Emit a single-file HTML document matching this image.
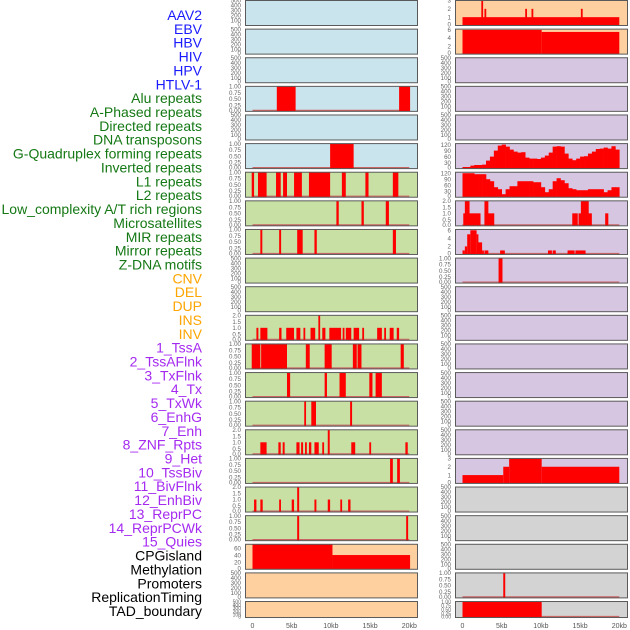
<!DOCTYPE html>
<html><head><meta charset="utf-8"><style>
html,body{margin:0;padding:0;background:#fff;width:630px;height:630px;overflow:hidden}
svg{display:block;font-family:"Liberation Sans",sans-serif}
</style></head><body>
<svg id="chart" width="630" height="630" viewBox="0 0 630 630" xmlns="http://www.w3.org/2000/svg"></svg>
<script>
// ---- data ----
const trackLabels = ["AAV2","EBV","HBV","HIV","HPV","HTLV-1","Alu repeats","A-Phased repeats","Directed repeats","DNA transposons","G-Quadruplex forming repeats","Inverted repeats","L1 repeats","L2 repeats","Low_complexity A/T rich regions","Microsatellites","MIR repeats","Mirror repeats","Z-DNA motifs","CNV","DEL","DUP","INS","INV","1_TssA","2_TssAFlnk","3_TxFlnk","4_Tx","5_TxWk","6_EnhG","7_Enh","8_ZNF_Rpts","9_Het","10_TssBiv","11_BivFlnk","12_EnhBiv","13_ReprPC","14_ReprPCWk","15_Quies","CPGisland","Methylation","Promoters","ReplicationTiming","TAD_boundary"];
const labelGroups = [6,13,5,15,5];
const xTickValues = [0,5,10,15,20];
const xTickLabels = ["0","5kb","10kb","15kb","20kb"];

const L4 = [[3.1,5.5,1],[18.7,20.1,1]];
const L6 = [[9.9,12.9,1]];
const L7 = [[-0.1,0.2,1],[0.7,1.8,1],[3.0,3.6,1],[3.9,4.4,1],[5.3,6.3,1],[7.2,9.9,1],[11.4,11.9,1],[14.4,14.8,1],[17.9,18.6,1]];
const L8 = [[10.7,11.0,1],[13.9,14.2,1],[17.0,17.4,1]];
const L9 = [[1.0,1.25,1],[3.4,3.65,1],[5.7,6.4,1],[7.9,8.2,1],[17.9,18.3,1]];
const L12 = [[0.5,0.75,1],[1.0,1.9,1],[3.4,3.7,1],[4.3,5.3,1],[5.6,6.1,1],[6.5,6.7,1],[7.4,8.0,1],[8.4,8.6,2],[8.9,9.3,1],[9.8,11.3,1],[11.5,11.7,1],[11.9,12.6,1],[12.9,13.6,1],[14.0,14.2,1],[15.9,16.5,1],[16.8,17.0,1],[17.5,18.0,1],[18.4,18.7,1]];
const L13 = [[-0.1,1.0,1],[1.1,4.4,1],[6.8,7.3,1],[9.2,10.1,1],[12.8,13.3,1],[13.4,13.9,1],[18.9,19.3,1]];
const L14 = [[4.4,4.8,1],[9.2,9.5,1],[11.1,11.9,1],[14.9,15.3,1],[15.7,16.5,1]];
const L15 = [[6.6,6.8,1],[7.5,8.1,1],[12.45,12.7,1]];
const L16 = [[1.0,1.8,1],[3.3,3.6,1],[3.85,4.1,1],[5.6,6.0,1],[6.2,6.45,1],[6.7,6.9,1],[7.2,7.5,1],[7.9,8.45,1],[8.9,9.1,1],[9.6,9.85,2],[12.6,13.1,1],[14.9,15.1,1],[19.5,19.8,1]];
const L17 = [[17.55,17.9,1],[18.45,18.8,1]];
const L18 = [[0.2,0.5,1],[1.0,1.3,1],[3.4,3.6,1],[5.0,5.3,1],[5.7,5.95,2],[7.9,8.15,1],[9.6,9.9,1],[11.2,11.4,1],[12.2,12.5,1]];
const L19 = [[5.7,5.95,1],[19.6,19.85,1]];
const L20 = [[0,10.2,72],[10.2,20.1,41]];

const R1 = [[0,20,1],[2.4,2.6,3],[2.8,3.0,2],[8.0,8.2,2],[8.8,9.0,2],[15.1,15.3,2]];
const R2 = [[0,10.1,6],[10.1,20,5.5]];
const R6hist = [8,8,15,18,18,20,40,60,90,115,120,110,95,85,80,82,55,50,50,48,55,65,80,110,112,110,75,50,42,50,60,62,75,85,98,100,105,100,112,95];
const R7hist = [120,120,120,115,115,115,90,80,50,40,15,40,55,55,80,80,80,80,75,75,50,25,40,80,95,85,70,45,40,35,35,35,40,40,40,40,25,35,50,50];
const R8 = [[0.1,2.3,1],[0.3,0.9,2],[2.8,4.05,1],[2.8,3.3,2],[14.0,14.7,1],[14.8,16.5,1],[15.1,16.1,2],[18.2,18.6,1]];
const R9 = [[0,0.3,1],[0.3,0.6,2],[0.6,1.0,5],[1.0,1.8,6],[1.8,1.9,5],[1.9,2.5,3],[2.5,2.6,1],[2.8,3.3,1],[4.8,5.4,1],[10.9,11.4,1],[11.5,11.9,1],[13.4,14.3,1],[14.4,15.7,1]];
const R10 = [[4.6,5.1,1]];
const R17 = [[0,5.2,1],[5.2,5.95,2],[5.95,10.1,3],[10.1,20,2]];
const R21 = [[5.2,5.45,1]];
const R22 = [[0,10.1,1]];

// ---- layout ----
const svg = document.getElementById('chart');
const NS = 'http://www.w3.org/2000/svg';
function mk(tag, attrs){const e=document.createElementNS(NS,tag);for(const k in attrs)e.setAttribute(k,attrs[k]);return e;}

const groupColors = ['#1a1aff','#147814','#ffa500','#a52af0','#000000'];
let li=0;
labelGroups.forEach((n,g)=>{for(let j=0;j<n;j++){
  const t=mk('text',{x:202,y:15+li*13.86+5,'text-anchor':'end','font-size':'14',fill:groupColors[g]});
  t.textContent=trackLabels[li];
  
  
  svg.appendChild(t); li++;}});

const BLUE='#c9e4ec',GREEN='#c8e0a4',PEACH='#ffd09f',LAV='#d7c6e2',GRAY='#d3d3d3';
const T1=[["0.00",0],["0.25",0.25],["0.50",0.5],["0.75",0.75],["1.00",1]];
const T2=[["0.0",0],["0.5",0.5],["1.0",1],["1.5",1.5],["2.0",2]];
const TB=[["0",0],["100",100],["200",200],["300",300],["400",400],["500",500]];
const T120=[["0",0],["30",30],["60",60],["90",90],["120",120]];
const panels=[];
function P(col,row,bg,max,ticks,data,hist){panels.push({col,row,bg,max,ticks,data,hist});}
for(let r=0;r<22;r++){
  const bg = r<6?BLUE:(r<19?GREEN:PEACH);
  P(0,r,bg,500,TB,null);
}
function setL(r,max,ticks,data){const p=panels[r];p.max=max;p.ticks=ticks;p.data=data;}
setL(3,1,T1,L4);setL(5,1,T1,L6);setL(6,1,T1,L7);setL(7,1,T1,L8);setL(8,1,T1,L9);
setL(11,2,T2,L12);setL(12,1,T1,L13);setL(13,1,T1,L14);setL(14,1,T1,L15);
setL(15,2,T2,L16);setL(16,1,T1,L17);setL(17,2,T2,L18);setL(18,1,T1,L19);
setL(19,72,[["0",0],["20",20],["40",40],["60",60]],L20);
const rStart=panels.length;
for(let r=0;r<22;r++){
  const bg = r<2?PEACH:(r<17?LAV:GRAY);
  P(1,r,bg,500,TB,null);
}
function setR(r,max,ticks,data,hist){const p=panels[rStart+r];p.max=max;p.ticks=ticks;p.data=data;p.hist=hist||null;}
setR(0,3,[["0",0],["1",1],["2",2],["3",3]],R1);
setR(1,6.2,[["0",0],["2",2],["4",4],["6",6]],R2);
setR(5,125,T120,null,R6hist);
setR(6,125,T120,null,R7hist);
setR(7,2,T2,R8);
setR(8,6.2,[["0",0],["2",2],["4",4],["6",6]],R9);
setR(9,1,T1,R10);
setR(16,3,[["0",0],["1",1],["2",2],["3",3]],R17);
setR(20,1,T1,R21);
setR(21,1,T1,R22);

const colX=[245,455], PW=172, PITCH=28.62;
function xScale(col,kb){return colX[col]+7.5+kb*7.84;}
function rowTop(r){return r*PITCH;}
function rowH(r){return r===21?16:25;}

panels.forEach((p,idx)=>{
  const top=rowTop(p.row)+0.5, h=rowH(p.row), x0=colX[p.col];
  const g=mk('g',{});
  
  
  const bg=mk('rect',{x:x0+0.5,y:top,width:PW,height:h,fill:p.bg});
  
  
  g.appendChild(bg);
  const yS=v=>top+h-Math.min(v,p.max)/p.max*h;
  if(p.data && p.max<=6.2 && !(p.col===1&&p.row<2) && !(p.col===1&&p.row===16)){
    const bl=mk('line',{x1:xScale(p.col,0),x2:xScale(p.col,20),y1:top+h-1,y2:top+h-1,stroke:'#c86464','stroke-width':1.2});
    
    
    g.appendChild(bl);
  }
  if(p.data){p.data.forEach(s=>{
    const xa=xScale(p.col,s[0]),xb=xScale(p.col,s[1]);
    const y=yS(s[2]);
    const b=mk('rect',{x:xa,y:y,width:Math.max(1.8,xb-xa),height:top+h-y,fill:'#ff0000'});
    
    
    g.appendChild(b);});}
  if(p.hist){p.hist.forEach((v,i)=>{
    const xa=xScale(p.col,i*0.5),xb=xScale(p.col,(i+1)*0.5);
    const y=yS(v);
    const b=mk('rect',{x:xa,y:y,width:xb-xa+0.3,height:top+h-y,fill:'#ff0000'});
    
    
    g.appendChild(b);});}
  const br=mk('rect',{x:x0+0.5,y:top,width:PW,height:h,fill:'none',stroke:'#5a5a5a','stroke-width':1});
  
  
  g.appendChild(br);
  p.ticks.forEach(t=>{
    const ty=top+h-t[1]/p.max*h;
    const tx=mk('text',{x:x0-4,y:Math.min(top+h+1,ty+2.2),'text-anchor':'end','font-size':h<20?'5':'6.2',fill:'#666'});
    tx.textContent=t[0];
    
    
    g.appendChild(tx);});
  svg.appendChild(g);
});

[0,1].forEach(c=>{xTickValues.forEach((v,i)=>{
  const t=mk('text',{x:xScale(c,v),y:628,'text-anchor':'middle','font-size':'7',fill:'#555'});
  t.textContent=xTickLabels[i];
  
  
  svg.appendChild(t);});});
</script>
</body></html>
